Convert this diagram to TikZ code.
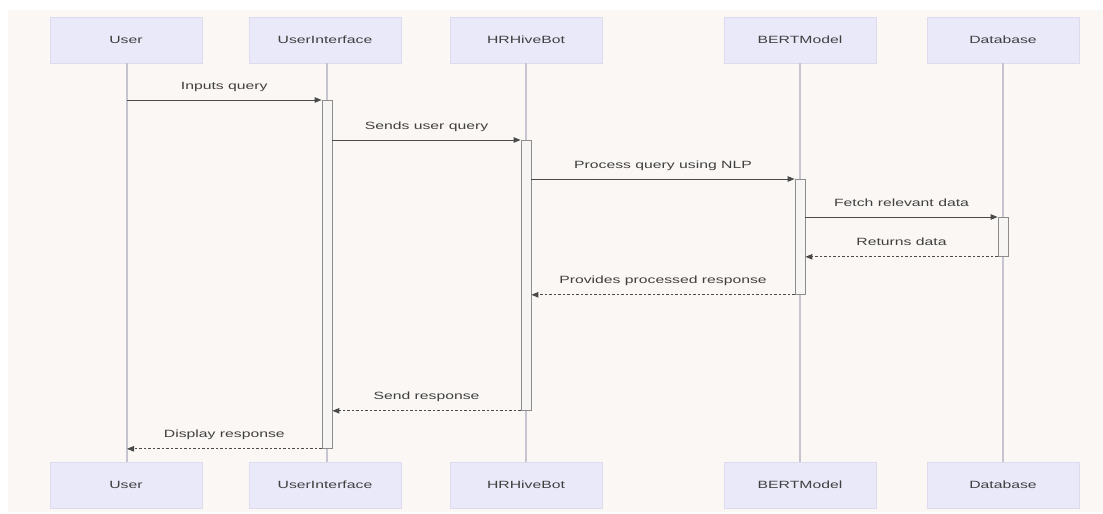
\documentclass[tikz,border=0pt]{standalone}
\usepackage{fontspec}
\setmainfont{Liberation Sans}[FakeStretch=1.5]
\usetikzlibrary{arrows.meta}
\definecolor{bgc}{HTML}{FAF7F4}
\definecolor{actfill}{HTML}{E9E9FA}
\definecolor{actborder}{HTML}{DEDBEF}
\definecolor{lifec}{HTML}{C6C4CE}
\definecolor{txt}{HTML}{404040}
\definecolor{linec}{HTML}{4A4A4A}
\definecolor{actvb}{HTML}{8C8C8C}
\definecolor{actvf}{HTML}{F7F5F3}
\tikzset{
  actorbox/.style={rectangle, fill=actfill, draw=actborder, line width=0.8pt,
    minimum width=152pt, minimum height=46pt, inner sep=0pt,
    font=\fontsize{10.5}{12}\selectfont, text=txt},
  lifeline/.style={draw=lifec, line width=1.2pt},
  activation/.style={rectangle, draw=actvb, fill=actvf, line width=0.8pt,
    minimum width=10pt, inner sep=0pt, anchor=north},
  msg/.style={draw=linec, line width=0.9pt, -{Triangle[length=7pt,width=5.5pt]}},
  reply/.style={msg, dash pattern=on 2.5pt off 2pt},
  msglabel/.style={midway, anchor=base, yshift=11pt, inner sep=0pt,
    font=\fontsize{10.5}{12}\selectfont, text=txt}
}
\begin{document}
\begin{tikzpicture}[x=1pt,y=-1pt]
\useasboundingbox (0,0) rectangle (1103,514);
\fill[white] (0,0) rectangle (1103,514);
\fill[bgc] (8,10) rectangle (1103,512);

% top actors
\node[actorbox] (uT)  at (126,40) {User};
\node[actorbox] (uiT) at (325,40) {UserInterface};
\node[actorbox] (hbT) at (526,40) {HRHiveBot};
\node[actorbox] (bmT) at (800,40) {BERTModel};
\node[actorbox] (dbT) at (1003,40) {Database};
% bottom actors
\node[actorbox] (uB)  at (126,485) {User};
\node[actorbox] (uiB) at (325,485) {UserInterface};
\node[actorbox] (hbB) at (526,485) {HRHiveBot};
\node[actorbox] (bmB) at (800,485) {BERTModel};
\node[actorbox] (dbB) at (1003,485) {Database};

% lifelines
\coordinate (uL)  at (127,0);
\coordinate (uiL) at (327,0);
\coordinate (hbL) at (526,0);
\coordinate (bmL) at (800,0);
\coordinate (dbL) at (1003,0);
\draw[lifeline] (uL |- uT.south) -- (uL |- uB.north);
\draw[lifeline] (uiL |- uiT.south) -- (uiL |- uiB.north);
\draw[lifeline] (hbL |- hbT.south) -- (hbL |- hbB.north);
\draw[lifeline] (bmL |- bmT.south) -- (bmL |- bmB.north);
\draw[lifeline] (dbL |- dbT.south) -- (dbL |- dbB.north);

% activations
\node[activation, minimum height=348pt] (uiA) at (327,100) {};
\node[activation, minimum height=270pt] (hbA) at (526,140) {};
\node[activation, minimum height=115pt] (bmA) at (800,179) {};
\node[activation, minimum height=39pt]  (dbA) at (1003,217) {};

% messages
\draw[msg] (uL |- uiA.north) -- (uiA.north west)
  node[msglabel] {Inputs query};
\draw[msg] (uiA.east |- hbA.north) -- (hbA.north west)
  node[msglabel] {Sends user query};
\draw[msg] (hbA.east |- bmA.north) -- (bmA.north west)
  node[msglabel] {Process query using NLP};
\draw[msg] (bmA.east |- dbA.north) -- (dbA.north west)
  node[msglabel] {Fetch relevant data};
\draw[reply] (dbA.south west) -- (bmA.east |- dbA.south)
  node[msglabel] {Returns data};
\draw[reply] (bmA.south west) -- (hbA.east |- bmA.south)
  node[msglabel] {Provides processed response};
\draw[reply] (hbA.south west) -- (uiA.east |- hbA.south)
  node[msglabel] {Send response};
\draw[reply] (uiA.south west) -- (uL |- uiA.south)
  node[msglabel] {Display response};
\end{tikzpicture}
\end{document}
